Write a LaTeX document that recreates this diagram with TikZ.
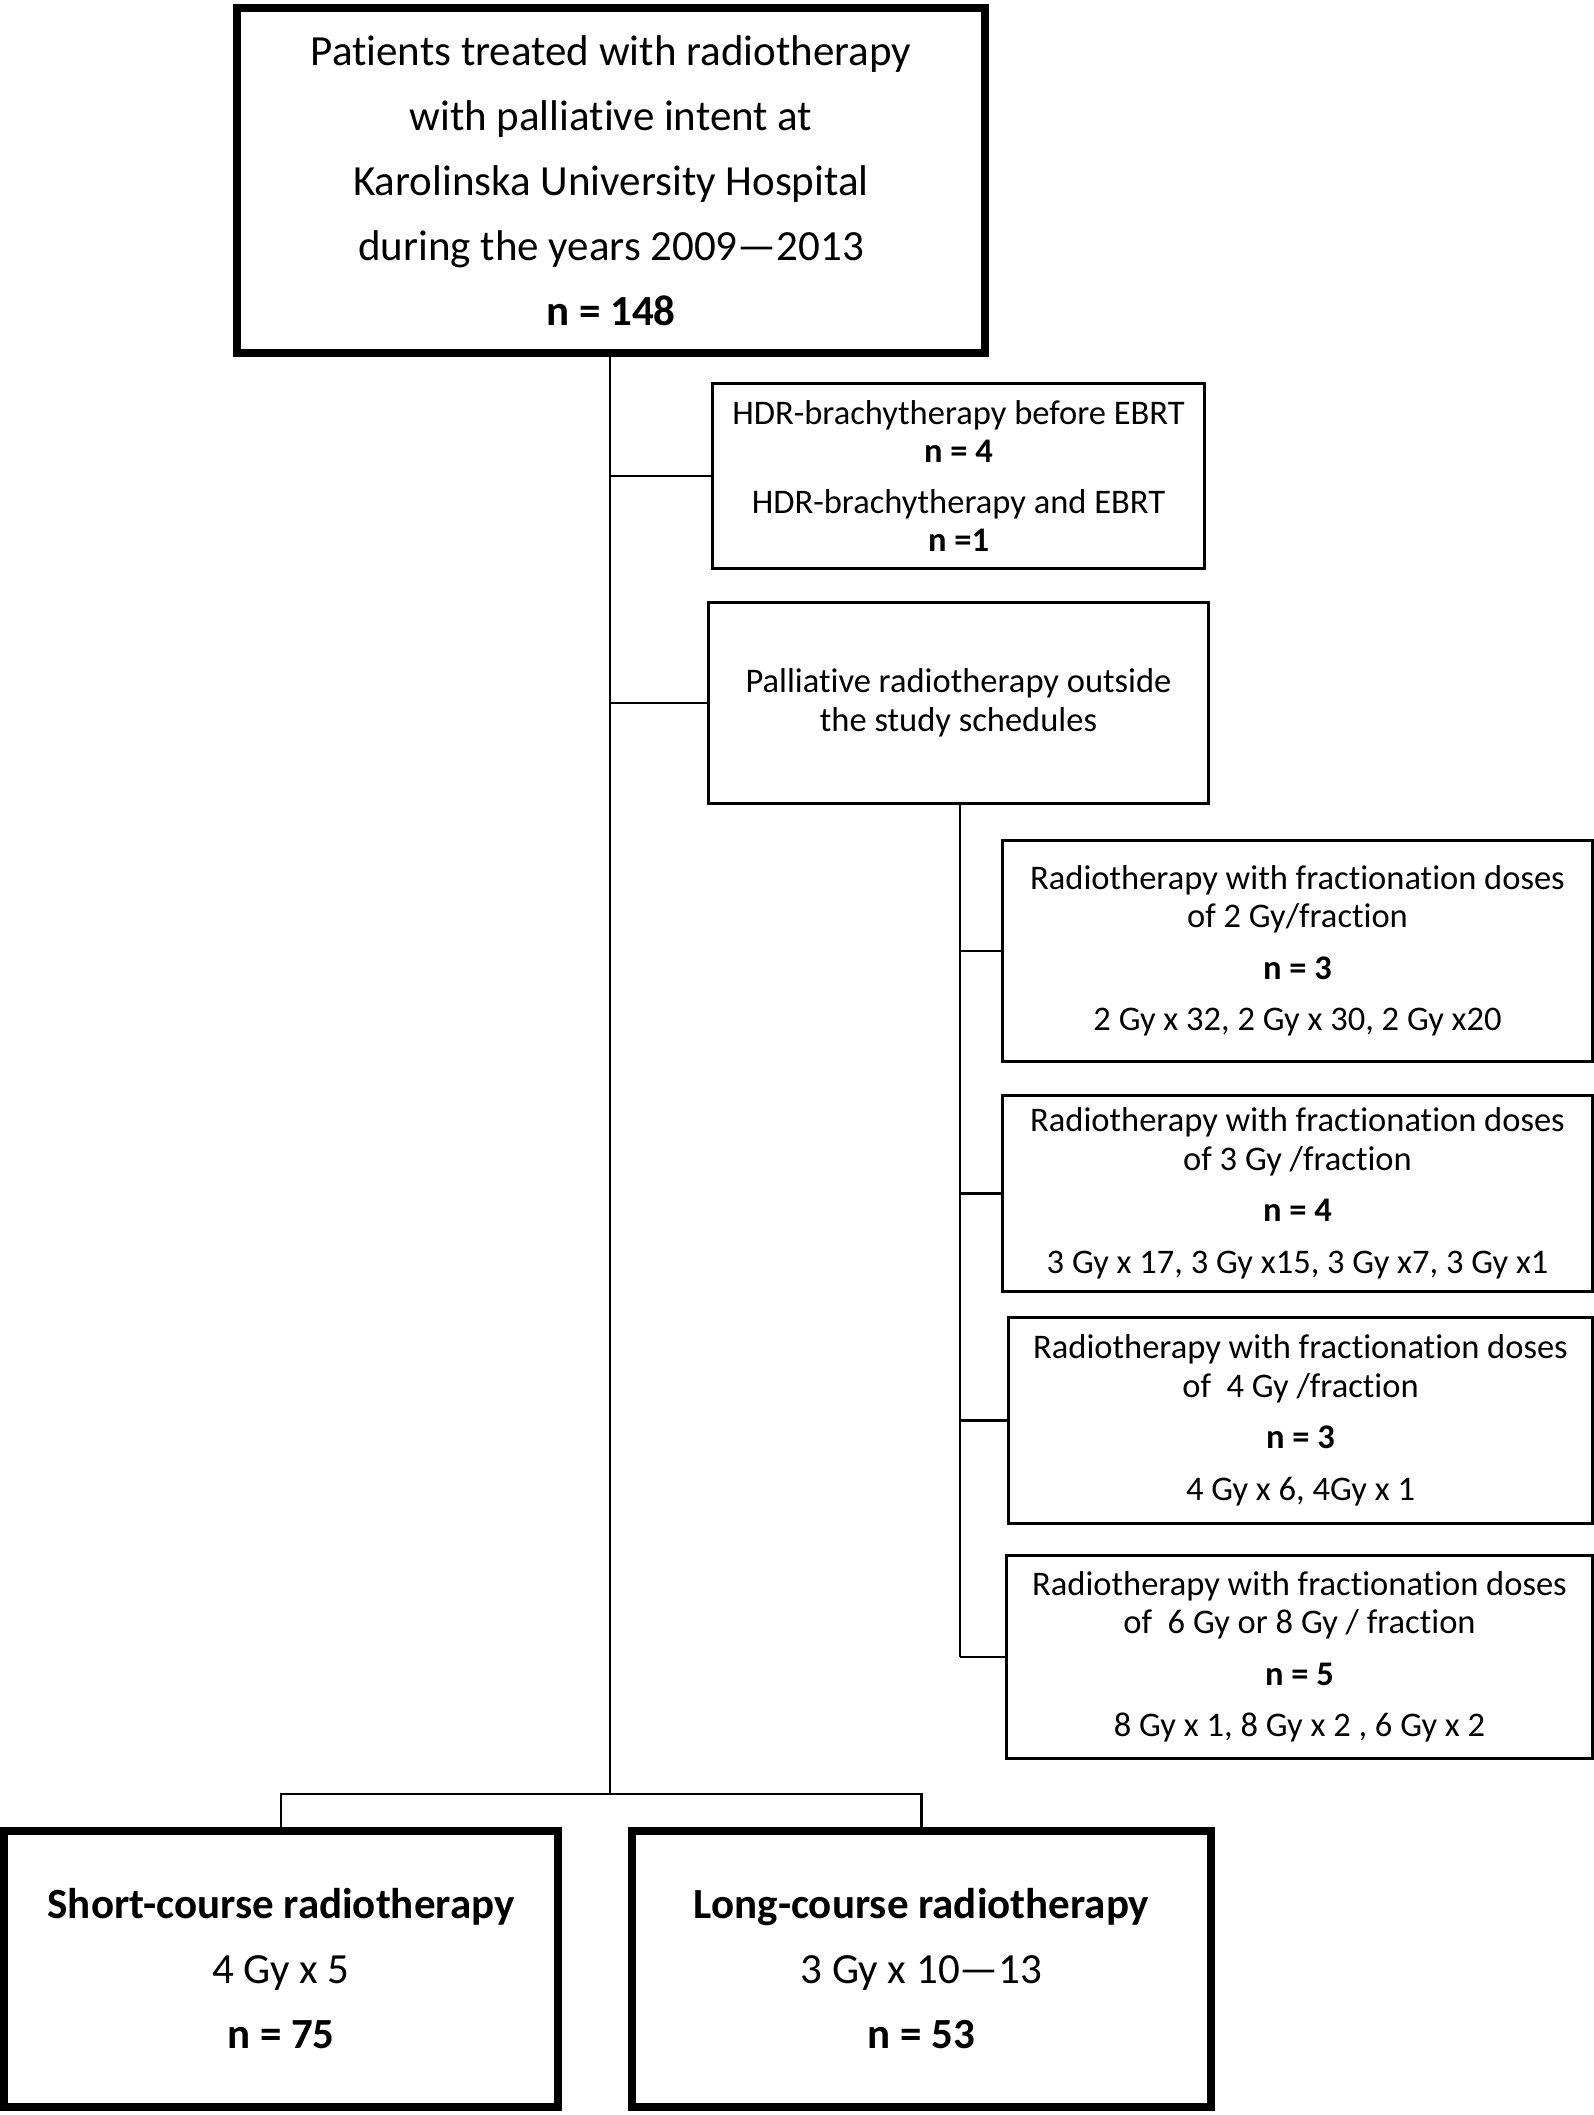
\documentclass[tikz,border=0pt]{standalone}
\usepackage{fontspec}
\setmainfont[Ligatures=NoCommon]{Carlito}
\begin{document}
\begin{tikzpicture}[x=1pt,y=-1pt,
  thickbox/.style={draw, line width=8pt, inner sep=0pt, outer sep=0pt, align=center, font=\fontsize{43}{65}\selectfont},
  thinbox/.style={draw, line width=3pt, inner sep=0pt, outer sep=0pt, align=center, font=\fontsize{34.5}{38.5}\selectfont},
  conn/.style={line width=2.5pt}
]
\useasboundingbox[fill=white] (0,0) rectangle (1594,2115);

\node[thickbox, minimum width=748pt, minimum height=345pt] (top) at (611,180.5)
  {Patients treated with radiotherapy\\ with palliative intent at\\ Karolinska University Hospital\\ during the years 2009—2013\\ \textbf{n = 148}};

\node[thinbox, minimum width=492pt, minimum height=185pt] (hdr) at (958.5,476)
  {HDR-brachytherapy before EBRT\\ \textbf{n = 4}\\[12pt] HDR-brachytherapy and EBRT\\ \textbf{n =1}};

\node[thinbox, minimum width=500pt, minimum height=201pt] (pal) at (958.5,703)
  {Palliative radiotherapy outside\\ the study schedules};

\node[thinbox, minimum width=590pt, minimum height=221pt] (f2) at (1297.5,951)
  {Radiotherapy with fractionation doses\\ of 2 Gy/fraction\\[13pt] \textbf{n = 3}\\[13pt] 2 Gy x 32, 2 Gy x 30, 2 Gy x20};

\node[thinbox, minimum width=590pt, minimum height=196pt] (f3) at (1297.5,1193.5)
  {Radiotherapy with fractionation doses\\ of 3 Gy /fraction\\[13pt] \textbf{n = 4}\\[13pt] 3 Gy x 17, 3 Gy x15, 3 Gy x7, 3 Gy x1};

\node[thinbox, minimum width=584pt, minimum height=206pt] (f4) at (1300.5,1420.5)
  {Radiotherapy with fractionation doses\\ of\ \ 4 Gy /fraction\\[13pt] \textbf{n = 3}\\[13pt] 4 Gy x 6, 4Gy x 1};

\node[thinbox, minimum width=586pt, minimum height=203pt] (f6) at (1299.5,1657)
  {Radiotherapy with fractionation doses\\ of\ \ 6 Gy or 8 Gy / fraction\\[13pt] \textbf{n = 5}\\[13pt] 8 Gy x 1, 8 Gy x 2 , 6 Gy x 2};

\node[thickbox, minimum width=554pt, minimum height=276pt] (short) at (281,1969)
  {\textbf{Short-course radiotherapy}\\ 4 Gy x 5\\ \textbf{n = 75}};

\node[thickbox, minimum width=579pt, minimum height=276pt] (long) at (921.5,1969)
  {\textbf{Long-course radiotherapy}\\ 3 Gy x 10—13\\ \textbf{n = 53}};

\coordinate (split) at (610,1794);
\coordinate (subend) at (960,1657);

\draw[conn] (top.south -| split) -- (split);
\draw[conn] (split |- hdr.west) -- (hdr.west);
\draw[conn] (split |- pal.west) -- (pal.west);
\draw[conn] (short.north) |- (split) -| (long.north);

\draw[conn] (pal.south -| subend) -- (subend);
\draw[conn] (subend |- f2.west) -- (f2.west);
\draw[conn] (subend |- f3.west) -- (f3.west);
\draw[conn] (subend |- f4.west) -- (f4.west);
\draw[conn] (subend) -- (f6.west);
\end{tikzpicture}
\end{document}
